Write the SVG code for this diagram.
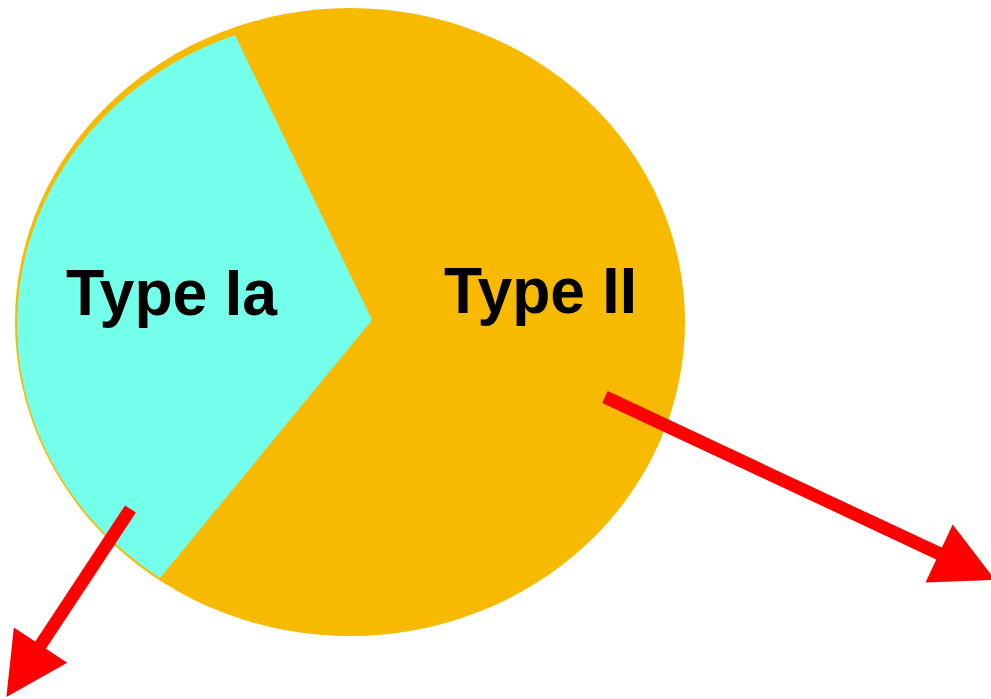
<svg xmlns="http://www.w3.org/2000/svg" width="991" height="699" viewBox="0 0 991 699">
  <style>
    .label { font-family: "Liberation Sans", Arial, Helvetica, sans-serif; font-weight: bold; font-size: 64px; fill: #000000; }
    .arrow { stroke: #FF0000; stroke-width: 13; fill: none; marker-end: url(#head); }
  </style>
  <defs>
    <marker id="head" markerUnits="userSpaceOnUse" markerWidth="64" markerHeight="66" refX="1" refY="32" orient="auto" overflow="visible">
      <path d="M0,0 L62,32 L0,64 Z" fill="#FF0000"/>
    </marker>
  </defs>
  <rect width="991" height="699" fill="#FFFFFF"/>
  <g id="type-ii">
    <ellipse cx="350" cy="322" rx="335" ry="314" fill="#F7BA00"/>
    <text class="label" x="444" y="313" textLength="193" lengthAdjust="spacingAndGlyphs">Type II</text>
  </g>
  <g id="type-ia">
    <path d="M235,35 L372,320 L160,578 A333,308.6 0 0 1 235,35 Z" fill="#74FFEA"/>
    <text class="label" x="66" y="315" textLength="211" lengthAdjust="spacingAndGlyphs">Type Ia</text>
  </g>
  <g id="connectors">
    <line class="arrow" x1="130.5" y1="509" x2="40" y2="646"/>
    <line class="arrow" x1="605" y1="397" x2="940" y2="554"/>
  </g>
</svg>
